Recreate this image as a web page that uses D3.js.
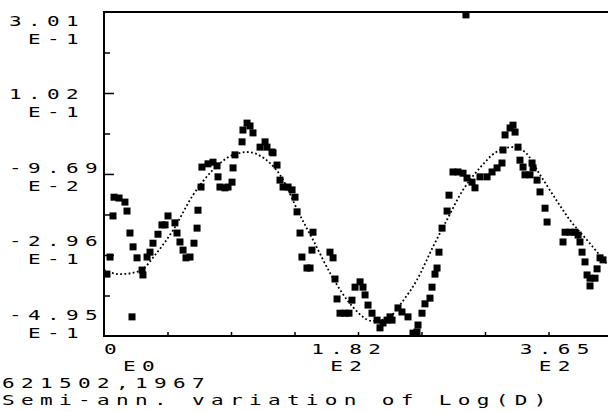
<!DOCTYPE html>
<html>
<head>
<meta charset="utf-8">
<script src="https://cdn.jsdelivr.net/npm/d3@7"></script>
<style>
  html, body { margin: 0; padding: 0; background: #fff; }
  svg { display: block; }
</style>
</head>
<body>
<script>
// Day of year (x) and log(D) deviation (y) of the observations
const obsDays = [7.9, 5.3, 2.6, 8.8, 13.2, 18.4, 20.2, 22.8, 25.5, 29.0, 24.6, 33.4, 34.2, 37.8, 40.4, 43.0,
  47.4, 50.9, 53.6, 56.2, 62.3, 64.1, 66.7, 69.4, 72.0, 75.5, 79.0, 81.7, 82.5, 85.2, 86.0, 91.3, 95.7, 99.2,
  100.1, 101.8, 106.2, 108.9, 112.4, 113.3, 115.0, 121.2, 122.0, 125.6, 128.2, 130.8, 137.0, 141.4, 143.1,
  147.5, 148.4, 151.9, 154.5, 157.2, 161.6, 165.1, 167.7, 169.5, 172.1, 183.5, 182.6, 173.8, 178.2, 180.9,
  198.4, 201.1, 202.8, 204.6, 207.2, 211.6, 215.1, 217.7, 220.4, 224.8, 227.4, 229.2, 231.8, 235.3, 239.7,
  242.3, 245.0, 248.5, 251.1, 252.9, 258.1, 261.6, 266.9, 271.3, 274.8, 275.7, 279.2, 281.8, 286.2, 288.0,
  290.6, 292.4, 294.1, 296.8, 301.2, 302.9, 306.4, 310.8, 315.2, 318.7, 323.1, 325.7, 330.1, 336.3, 340.7,
  345.1, 349.4, 350.3, 352.1, 356.5, 359.1, 360.9, 363.5, 365.2, 367.9, 369.6, 374.0, 375.8, 376.7, 380.2,
  382.8, 387.2, 389.0, 404.8, 409.1, 413.5, 416.2, 403.0, 417.9, 419.7, 422.3, 424.1, 426.7, 431.1, 432.9,
  435.5, 438.1, 426.7, 317.8];
const obsValues = [-0.200, -0.301, -0.343, -0.154, -0.156, -0.166, -0.188, -0.242, -0.276, -0.303, -0.448,
  -0.333, -0.345, -0.301, -0.289, -0.267, -0.245, -0.222, -0.222, -0.200, -0.217, -0.242, -0.264, -0.284,
  -0.303, -0.301, -0.267, -0.230, -0.186, -0.129, -0.080, -0.072, -0.068, -0.077, -0.104, -0.129, -0.131,
  -0.129, -0.117, -0.082, -0.050, -0.018, 0.011, 0.028, 0.021, 0.004, -0.031, -0.018, -0.031, -0.043,
  -0.045, -0.075, -0.112, -0.129, -0.129, -0.136, -0.154, -0.190, -0.242, -0.240, -0.284, -0.301, -0.328,
  -0.328, -0.289, -0.303, -0.355, -0.404, -0.439, -0.439, -0.439, -0.407, -0.375, -0.362, -0.375, -0.394,
  -0.419, -0.439, -0.456, -0.475, -0.463, -0.456, -0.448, -0.456, -0.426, -0.436, -0.448, -0.488, -0.485,
  -0.468, -0.439, -0.416, -0.402, -0.375, -0.343, -0.328, -0.289, -0.230, -0.188, -0.149, -0.092, -0.092,
  -0.095, -0.107, -0.117, -0.131, -0.104, -0.104, -0.092, -0.082, -0.070, -0.038, -0.001, 0.016, 0.023,
  0.006, -0.031, -0.063, -0.080, -0.099, -0.099, -0.070, -0.082, -0.112, -0.141, -0.181, -0.215, -0.240,
  -0.240, -0.240, -0.247, -0.264, -0.264, -0.289, -0.313, -0.345, -0.353, -0.353, -0.330, -0.303, -0.308,
  -0.372, 0.294];

// Fitted semi-annual curve
const fitDays = [0, 14, 31.6, 44.8, 60.6, 78.1, 95.7, 113.3, 126.4, 138.7, 154.5, 172, 185, 198.4, 218.6,
  235.3, 249.3, 261.6, 274.8, 288.8, 301, 315.2, 330, 343.3, 358.2, 369.6, 382.8, 396, 409, 424, 442.5];
const fitValues = [-0.333, -0.343, -0.335, -0.296, -0.235, -0.149, -0.087, -0.050, -0.043, -0.055, -0.099,
  -0.198, -0.267, -0.340, -0.424, -0.458, -0.451, -0.412, -0.357, -0.276, -0.210, -0.136, -0.082, -0.045,
  -0.031, -0.043, -0.099, -0.156, -0.210, -0.259, -0.321];

// Axis labels
const yLabelValues = [0.301, 0.102, -0.0969, -0.296, -0.495];
const yLabelMantissa = ["3.01", "1.02", "-9.69", "-2.96", "-4.95"];
const yLabelExponent = ["E-1", "E-1", "E-2", "E-1", "E-1"];
const xLabelValues = [0, 182, 365];
const xLabelMantissa = ["0", "1.82", "3.65"];
const xLabelExponent = ["E0", "E2", "E2"];
const captionLines = ["621502,1967", "Semi-ann. variation of Log(D)"];

const W = 608, H = 412;
const xMax = 446;
const x = d3.scaleLinear().domain([0, xMax]).range([104, 612]);
const y = d3.scaleLinear().domain([-0.495, 0.301]).range([336, 12]);

const svg = d3.select("body").append("svg").attr("width", W).attr("height", H);

// Ticks: majors at the labelled values, minors halfway between
const yMajor = yLabelValues.slice(1, 4);
const yMinor = d3.range(4).map(i => (yLabelValues[i] + yLabelValues[i + 1]) / 2);
const xTicks = d3.range(1, 8).map(i => i * xMax / 8);

function tickAxis(axis) {
  return g => { g.call(axis); g.select(".domain").remove(); g.selectAll("line").attr("stroke", "#000").attr("stroke-width", 1.5); };
}
svg.append("g").attr("transform", "translate(104,0)")
  .call(tickAxis(d3.axisRight(y).tickValues(yMajor).tickSize(10).tickFormat("")));
svg.append("g").attr("transform", "translate(104,0)")
  .call(tickAxis(d3.axisRight(y).tickValues(yMinor).tickSize(6).tickFormat("")));
svg.append("g").attr("transform", "translate(0,336)")
  .call(tickAxis(d3.axisTop(x).tickValues(xTicks).tickSize(4).tickFormat("")));

// Frame: left, top and bottom edges
svg.append("path")
  .attr("d", `M${W},${y.range()[1]}H${x(0)}V${y.range()[0]}H${W}`)
  .attr("fill", "none").attr("stroke", "#000").attr("stroke-width", 2);

// Dotted fit curve
const fit = fitDays.map((d, i) => [d, fitValues[i]]);
svg.append("path")
  .datum(fit)
  .attr("d", d3.line().x(d => x(d[0])).y(d => y(d[1])).curve(d3.curveMonotoneX))
  .attr("fill", "none").attr("stroke", "#000").attr("stroke-width", 1.8)
  .attr("stroke-dasharray", "1.8,2.4");

// Observation squares
const obs = obsDays.map((d, i) => [d, obsValues[i]]);
const S = 7;
svg.append("g").selectAll("rect").data(obs).join("rect")
  .attr("x", d => x(d[0]) - S / 2).attr("y", d => y(d[1]) - S / 2)
  .attr("width", S).attr("height", S).attr("fill", "#000");

// Plotter-style monospaced text on a fixed character cell (19 px pitch)
const cell = 19;
const fs = 14.5, sx = 1.45;
function label(str, px, baseline) {
  svg.append("g").attr("transform", `translate(${px},${baseline}) scale(${sx},1)`)
    .append("text")
    .attr("font-family", "DejaVu Sans Mono, monospace")
    .attr("font-size", fs)
    .attr("letter-spacing", `${(cell - 0.602 * fs * sx) / sx}px`)
    .attr("fill", "#000")
    .text(str);
}

const yRow0 = 25.5, yRowStep = 73.5, expStep = 18.3;
yLabelMantissa.forEach((m, i) => {
  label(m, 9, yRow0 + i * yRowStep);
  label(yLabelExponent[i], 9 + cell, yRow0 + i * yRowStep + expStep);
});
xLabelValues.forEach((v, i) => {
  label(xLabelMantissa[i], x(v), 354);
  label(xLabelExponent[i], x(v) + cell, 371);
});
captionLines.forEach((s, i) => label(s, 2, 388 + i * 17));
</script>
</body>
</html>
